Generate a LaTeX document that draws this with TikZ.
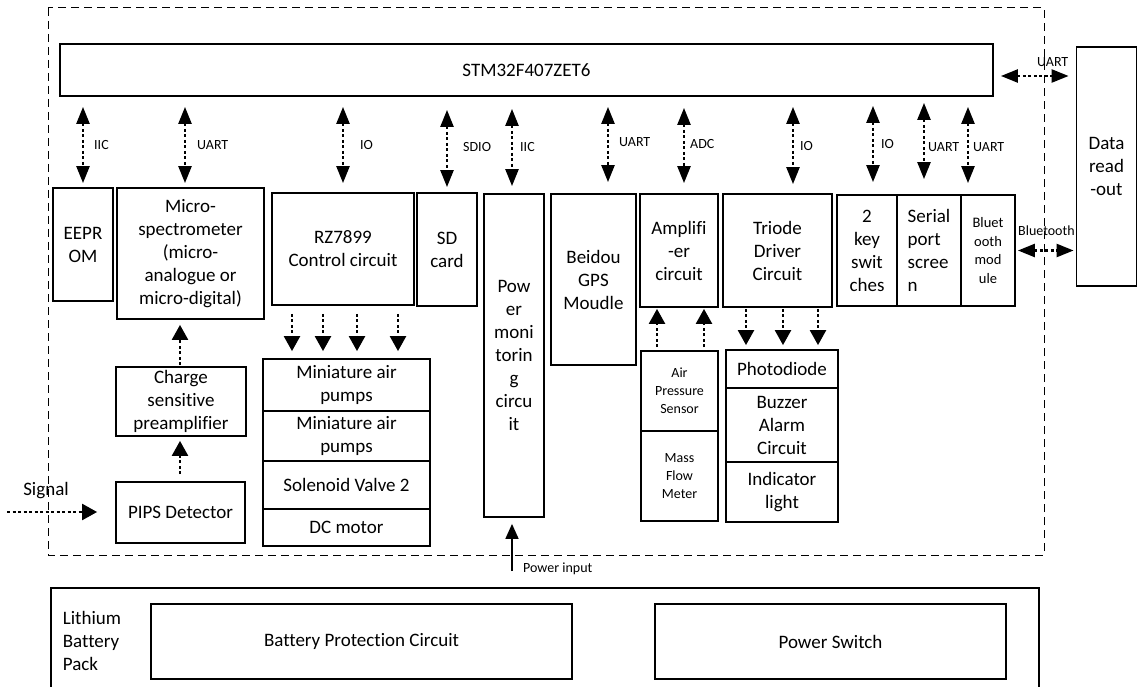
\documentclass[tikz,border=0pt]{standalone}
\usepackage{fontspec}
\setmainfont{Carlito}[Ligatures=NoCommon]
\usetikzlibrary{arrows.meta}
\begin{document}
\begin{tikzpicture}[x=1pt,y=-1pt,
 box/.style={draw, line width=1.8pt, inner sep=0pt, align=center, font=\fontsize{19}{23}\selectfont},
 sbox/.style={box, font=\fontsize{14}{18}\selectfont},
 lbl/.style={inner sep=0pt, anchor=west, font=\fontsize{14}{16}\selectfont},
 darr/.style={line width=2.4pt, dash pattern=on 3pt off 2.5pt, {Triangle[length=17pt,width=13pt]}-{Triangle[length=17pt,width=13pt]}},
 sarr/.style={line width=2.4pt, dash pattern=on 3pt off 2.5pt, -{Triangle[length=15pt,width=16pt]}},
 parr/.style={line width=1.6pt, -{Triangle[length=15pt,width=13pt]}},
 frame/.style={dash pattern=on 8pt off 5pt, line width=1pt}]
\useasboundingbox (0,0) rectangle (1138,687);
% dashed frame
\draw[frame] (48,8) rectangle (1044,555);
% main nodes
\node[box, minimum width=933pt, minimum height=52pt] (stm) at (526.5,70) {STM32F407ZET6};
\node[box, minimum width=60pt, minimum height=239pt] (readout) at (1106.5,166.5) {Data\\read\\-out};
\node[box, minimum width=60pt, minimum height=113pt] (eeprom) at (83,244.5) {EEPR\\OM};
\node[box, minimum width=147pt, minimum height=131pt] (micro) at (190.5,253.5) {Micro-\\spectrometer\\(micro-\\analogue or\\micro-digital)};
\node[box, minimum width=142pt, minimum height=112pt] (rz) at (343,249) {RZ7899\\Control circuit};
\node[box, minimum width=60pt, minimum height=113pt] (sd) at (447,249.5) {SD\\card};
\node[box, minimum width=60pt, minimum height=323pt] (pwr) at (514,355.5) {Pow\\er\\moni\\torin\\g\\circu\\it};
\node[box, minimum width=85pt, minimum height=171pt] (beidou) at (593.5,279.5) {Beidou\\GPS\\Moudle};
\node[box, minimum width=78pt, minimum height=113pt] (amp) at (679,250.5) {Amplifi\\-er\\circuit};
\node[box, minimum width=109pt, minimum height=113pt] (triode) at (777.5,250.5) {Triode\\Driver\\Circuit};
\node[box, minimum width=60pt, minimum height=111pt] (keys) at (867,250.5) {2\\key\\swit\\ches};
\node[box, align=left, minimum width=64pt, minimum height=111pt] (serial) at (929,250.5) {Serial\\port\\scree\\n};
\node[box, font=\fontsize{14.5}{18.5}\selectfont, minimum width=54pt, minimum height=111pt] (btm) at (988,250.5) {Bluet\\ooth\\mod\\ule};
% pumps stack
\node[box, minimum width=167pt, minimum height=52pt] (pump1) at (346.5,385) {Miniature air\\pumps};
\node[box, minimum width=167pt, minimum height=50pt] (pump2) at (346.5,436) {Miniature air\\pumps};
\node[box, minimum width=167pt, minimum height=48pt] (valve) at (346.5,485) {Solenoid Valve 2};
\node[box, minimum width=167pt, minimum height=37pt] (motor) at (346.5,527.5) {DC motor};
% detector chain
\node[box, minimum width=130pt, minimum height=69pt] (charge) at (181,401.5) {Charge\\sensitive\\preamplifier};
\node[box, minimum width=129pt, minimum height=61pt] (pips) at (180.5,512.5) {PIPS Detector};
% sensors
\node[sbox, minimum width=77pt, minimum height=80pt] (press) at (679.5,391) {Air\\Pressure\\Sensor};
\node[sbox, minimum width=77pt, minimum height=90pt] (flow) at (679.5,476) {Mass\\Flow\\Meter};
% outputs
\node[box, minimum width=112pt, minimum height=38pt] (photo) at (782,369) {Photodiode};
\node[box, minimum width=112pt, minimum height=74pt] (buzzer) at (782,425) {Buzzer\\Alarm\\Circuit};
\node[box, minimum width=112pt, minimum height=60pt] (light) at (782,492) {Indicator\\light};
% battery pack
\node[box, minimum width=988pt, minimum height=112pt] (pack) at (545,644) {};
\node[box, draw=none, align=left, anchor=west] (packlbl) at (62,641) {Lithium\\Battery\\Pack};
\node[box, minimum width=421pt, minimum height=75pt] (bpc) at (361.5,641.5) {Battery Protection Circuit};
\node[box, minimum width=351pt, minimum height=75pt] (psw) at (830.5,641.5) {Power Switch};
% bus arrows
\draw[darr, shorten <=10pt, shorten >=4pt] (83,0 |- stm.south) -- (83,0 |- eeprom.north);
\draw[darr, shorten <=10pt, shorten >=4pt] (185,0 |- stm.south) -- (185,0 |- micro.north);
\draw[darr, shorten <=10pt, shorten >=9pt] (343,0 |- stm.south) -- (343,0 |- rz.north);
\draw[darr, shorten <=13pt, shorten >=5pt] (447,0 |- stm.south) -- (447,0 |- sd.north);
\draw[darr, shorten <=12pt, shorten >=7pt] (512,0 |- stm.south) -- (512,0 |- pwr.north);
\draw[darr, shorten <=10pt, shorten >=11pt] (608,0 |- stm.south) -- (608,0 |- beidou.north);
\draw[darr, shorten <=11pt, shorten >=10pt] (684,0 |- stm.south) -- (684,0 |- amp.north);
\draw[darr, shorten <=10pt, shorten >=9pt] (793,0 |- stm.south) -- (793,0 |- triode.north);
\draw[darr, shorten <=9pt, shorten >=12pt] (873,0 |- stm.south) -- (873,0 |- keys.north);
\draw[darr, shorten <=6pt, shorten >=15pt] (924,0 |- stm.south) -- (924,0 |- serial.north);
\draw[darr, shorten <=10pt, shorten >=11pt] (968,0 |- stm.south) -- (968,0 |- btm.north);
\node[lbl] (l1) at (94,145) {IIC};
\node[lbl] (l2) at (197,145) {UART};
\node[lbl] (l3) at (360,145) {IO};
\node[lbl] (l4) at (463,147) {SDIO};
\node[lbl] (l5) at (520,147) {IIC};
\node[lbl] (l6) at (619,142) {UART};
\node[lbl] (l7) at (690,144) {ADC};
\node[lbl] (l8) at (800,146) {IO};
\node[lbl] (l9) at (881,144) {IO};
\node[lbl] (l10) at (928,147) {UART};
\node[lbl] (l11) at (973,147) {UART};
% external links
\draw[darr, shorten <=7pt, shorten >=7pt] (stm.east |- 0,76) -- (readout.west |- 0,76);
\node[lbl] (l12) at (1037,62) {UART};
\draw[darr, shorten <=2pt, shorten >=2pt] (btm.east) -- (btm.east -| readout.west);
\node[lbl] (l13) at (1018,231) {Bluetooth};
% control arrows
\foreach \x in {292,323,357,398}
  \draw[sarr, shorten <=8pt, shorten >=7pt] (\x,0 |- rz.south) -- (\x,0 |- pump1.north);
\foreach \x in {746,783,818}
  \draw[sarr, shorten <=1pt, shorten >=4pt] (\x,0 |- triode.south) -- (\x,0 |- photo.north);
\foreach \x in {657,704}
  \draw[sarr, shorten <=3pt, shorten >=1pt] (\x,0 |- press.north) -- (\x,0 |- amp.south);
\draw[sarr, shorten <=1pt, shorten >=5pt] (180,0 |- charge.north) -- (180,0 |- micro.south);
\draw[sarr, shorten <=7pt, shorten >=4pt] (180,0 |- pips.north) -- (180,0 |- charge.south);
% signal input
\coordinate (sig) at (7,512);
\draw[sarr, shorten >=18pt] (sig) -- (sig -| pips.west);
\node[box, draw=none] (siglbl) at (46,491) {Signal};
% power input
\coordinate (pin) at (512,571);
\draw[parr, shorten >=6pt] (pin) -- (pin |- pwr.south);
\node[lbl] (l14) at (523,569) {Power input};
\end{tikzpicture}
\end{document}
